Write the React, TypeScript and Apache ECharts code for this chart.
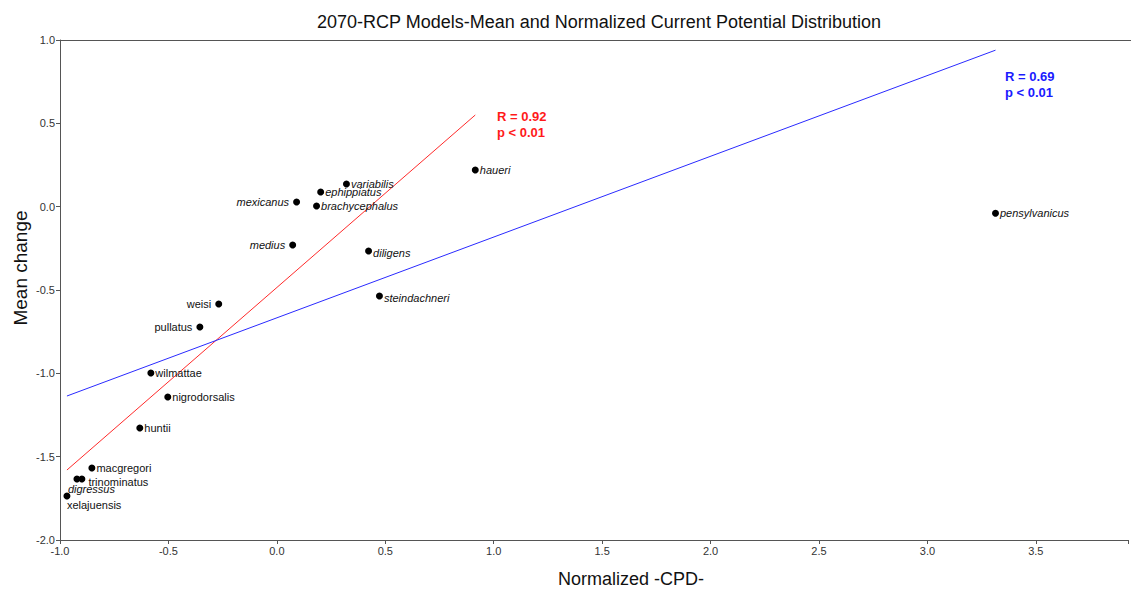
import React, { useEffect, useRef } from "react";
import * as echarts from "echarts";

// Species measurements: normalized -CPD- (x) and mean change (y)
const species = [
  "pensylvanicus", "haueri", "variabilis", "ephippiatus", "brachycephalus",
  "mexicanus", "medius", "diligens", "steindachneri", "weisi", "pullatus",
  "wilmattae", "nigrodorsalis", "huntii", "macgregori", "trinominatus",
  "digressus", "xelajuensis",
];
const cpd = [
  3.314, 0.915, 0.321, 0.202, 0.183, 0.091, 0.073, 0.423, 0.473, -0.268,
  -0.355, -0.581, -0.503, -0.632, -0.853, -0.899, -0.922, -0.968,
];
const meanChange = [
  -0.04, 0.22, 0.136, 0.088, 0.004, 0.028, -0.23, -0.266, -0.536, -0.584,
  -0.722, -0.998, -1.142, -1.328, -1.568, -1.634, -1.634, -1.736,
];
const italicNames = [
  "pensylvanicus", "haueri", "variabilis", "ephippiatus", "brachycephalus",
  "mexicanus", "medius", "diligens", "steindachneri", "digressus",
];

// Regression line endpoints
const redFitX = [-0.968, 0.915];
const redFitY = [-1.58, 0.55];
const blueFitX = [-0.968, 3.314];
const blueFitY = [-1.136, 0.939];

const xTicks = { min: -1, max: 3.925, interval: 0.5 };
const yTicks = { min: -2, max: 1, interval: 0.5 };

const FONT = "'Liberation Sans', Arial, sans-serif";

function labelFor(name: string): any {
  const left = ["mexicanus", "medius", "weisi", "pullatus"];
  const base: any = {
    show: true,
    formatter: name,
    fontFamily: FONT,
    fontSize: 11,
    color: "#111",
    fontStyle: italicNames.includes(name) ? "italic" : "normal",
    position: left.includes(name) ? "left" : "right",
    distance: left.includes(name) ? 4 : 1,
  };
  if (name === "diligens" || name === "steindachneri") base.offset = [0, 2];
  if (name === "trinominatus") base.offset = [2, 3];
  if (name === "digressus") {
    base.position = [-5.5, 13.5];
    base.align = "left";
    base.verticalAlign = "middle";
  }
  if (name === "xelajuensis") {
    base.position = [3.5, 12.5];
    base.align = "left";
    base.verticalAlign = "middle";
  }
  return base;
}

export default function App() {
  const ref = useRef<HTMLDivElement>(null);

  useEffect(() => {
    if (!ref.current) return;
    const chart = echarts.init(ref.current, undefined, { renderer: "svg" });

    const points = species.map((name, i) => ({
      name,
      value: [cpd[i], meanChange[i]],
      label: labelFor(name),
    }));

    const axisLabel = { fontFamily: FONT, fontSize: 11, color: "#333", margin: 5 };

    chart.setOption({
      animation: false,
      backgroundColor: "#fff",
      title: {
        text: "2070-RCP Models-Mean and Normalized Current Potential Distribution",
        left: 594,
        textAlign: "center",
        top: 8,
        textStyle: { fontFamily: FONT, fontSize: 18, fontWeight: "normal", color: "#111" },
      },
      grid: { left: 60, right: 1, top: 40, bottom: 50, containLabel: false },
      xAxis: {
        type: "value",
        min: xTicks.min,
        max: xTicks.max,
        interval: xTicks.interval,
        splitLine: { show: false },
        axisLine: { onZero: false, lineStyle: { color: "#555", width: 1 } },
        axisTick: { show: true, length: 4, lineStyle: { color: "#555" } },
        axisLabel: {
          ...axisLabel,
          formatter: (v: number) => (Math.abs(v - xTicks.max) < 1e-6 ? "" : v.toFixed(1)),
        },
      },
      yAxis: {
        type: "value",
        min: yTicks.min,
        max: yTicks.max,
        interval: yTicks.interval,
        splitLine: { show: false },
        axisLine: { onZero: false, lineStyle: { color: "#555", width: 1 } },
        axisTick: { show: true, length: 4, lineStyle: { color: "#555" } },
        axisLabel: { ...axisLabel, formatter: (v: number) => v.toFixed(1) },
      },
      graphic: [
        {
          type: "line",
          shape: { x1: 60, y1: 40.5, x2: 1131, y2: 40.5 },
          style: { stroke: "#555", lineWidth: 1 },
        },
        {
          type: "text",
          x: 20,
          y: 268,
          rotation: Math.PI / 2,
          style: {
            text: "Mean change",
            font: `19px ${FONT}`,
            fill: "#111",
            align: "center",
            verticalAlign: "middle",
          },
        },
        {
          type: "text",
          x: 631,
          y: 579,
          style: {
            text: "Normalized -CPD-",
            font: `18px ${FONT}`,
            fill: "#111",
            align: "center",
            verticalAlign: "middle",
          },
        },
        {
          type: "text",
          x: 497,
          y: 108,
          style: {
            text: "R = 0.92\np < 0.01",
            font: `bold 13px ${FONT}`,
            fill: "#ff1a1a",
            lineHeight: 16,
          },
        },
        {
          type: "text",
          x: 1005,
          y: 68,
          style: {
            text: "R = 0.69\np < 0.01",
            font: `bold 13px ${FONT}`,
            fill: "#1a1aff",
            lineHeight: 16,
          },
        },
      ],
      series: [
        {
          type: "line",
          data: redFitX.map((x, i) => [x, redFitY[i]]),
          showSymbol: false,
          symbol: "none",
          lineStyle: { color: "#ff2a2a", width: 1 },
          silent: true,
          z: 1,
        },
        {
          type: "line",
          data: blueFitX.map((x, i) => [x, blueFitY[i]]),
          showSymbol: false,
          symbol: "none",
          lineStyle: { color: "#2a2aff", width: 1 },
          silent: true,
          z: 1,
        },
        {
          type: "scatter",
          data: points,
          symbol: "circle",
          symbolSize: 7,
          itemStyle: { color: "#000", opacity: 1 },
          z: 3,
        },
      ],
    });

    return () => chart.dispose();
  }, []);

  return (
    <div
      ref={ref}
      style={{ position: "fixed", left: 0, top: 0, width: 1131, height: 590 }}
    />
  );
}
